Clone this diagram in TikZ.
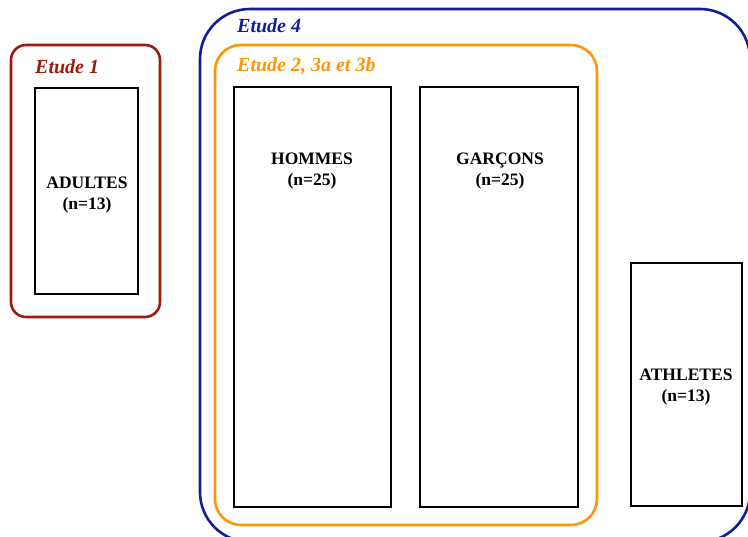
\documentclass[tikz,border=0pt]{standalone}
\usepackage{fontspec}
\setmainfont{Liberation Serif}
\definecolor{etude-red}{RGB}{155,28,15}
\definecolor{etude-blue}{RGB}{16,32,145}
\definecolor{etude-orange}{RGB}{255,150,10}
\tikzset{
  groupe/.style={line width=2.6pt, black},
  titre/.style={font=\fontsize{20}{24}\selectfont\bfseries\itshape, anchor=base west, inner sep=0pt},
  effectif/.style={font=\fontsize{17.5}{21}\selectfont\bfseries, align=center, inner sep=0pt}
}
\begin{document}
\begin{tikzpicture}[x=1pt, y=-1pt]

			\useasboundingbox (0,0) rectangle (748,537);
			\clip (0,0) rectangle (748,537);

			% etudes
			\draw[etude-red, line width=2.6pt, rounded corners=15pt] (11,45) rectangle (160,317);
			\draw[etude-blue, line width=2.6pt, rounded corners=50pt] (200,9) rectangle (750,542);
			\draw[etude-orange, line width=2.6pt, rounded corners=26pt] (215,45) rectangle (597,525);

			\node[titre, etude-red] (etude1) at (35,74) {Etude 1};
			\node[titre, etude-blue] (etude4) at (237,33) {Etude 4};
			\node[titre, etude-orange] (etude23) at (237,72) {Etude 2, 3a et 3b};

			% groupes
			\draw[groupe] (35,88) rectangle (138,294);
			\draw[groupe] (234,87) rectangle (391,507);
			\draw[groupe] (420,87) rectangle (578,507);
			\draw[groupe] (631,263) rectangle (742,506);

			\node[effectif] (adultes) at (87,195) {ADULTES\\(n=13)};
			\node[effectif] (hommes) at (312,171) {HOMMES\\(n=25)};
			\node[effectif] (garcons) at (500,171) {GARÇONS\\(n=25)};
			\node[effectif] (athletes) at (686,387) {ATHLETES\\(n=13)};
		\end{tikzpicture}
\end{document}
